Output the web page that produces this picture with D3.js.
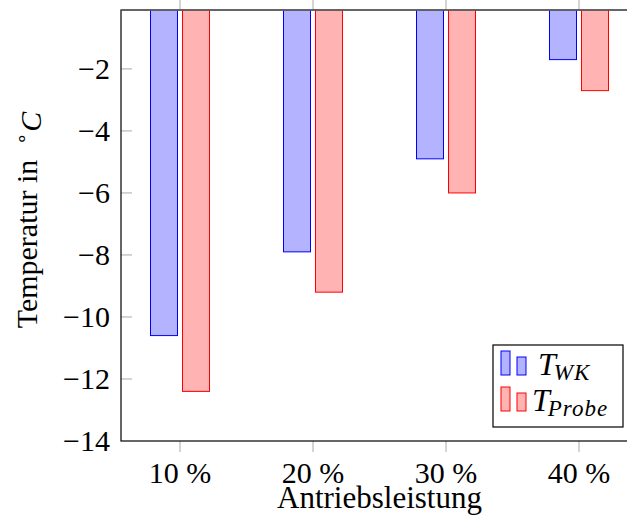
<!DOCTYPE html>
<html>
<head>
<meta charset="utf-8">
<script src="https://cdn.jsdelivr.net/npm/d3@7"></script>
<style>
  body { margin: 0; background: #fff; }
  text { font-family: "Liberation Serif", serif; fill: #000; }
</style>
</head>
<body>
<div id="graph1"></div>
<script>
// data
var categories = ["10 %", "20 %", "30 %", "40 %"];
var tWK = [-10.6, -7.9, -4.9, -1.7];
var tProbe = [-12.4, -9.2, -6.0, -2.7];
var yTicks = [-14, -12, -10, -8, -6, -4, -2];

var w = 627;
var h = 517;
var margin = { top: 10, bottom: 76, left: 121, right: -11 };
var width = w - margin.left - margin.right;   // 517
var height = h - margin.top - margin.bottom;  // 431

var svg = d3.select("#graph1").append("svg")
    .attr("width", w)
    .attr("height", h);

var chart = svg.append("g")
    .attr("transform", "translate(" + margin.left + "," + margin.top + ")");

var x = d3.scalePoint()
    .domain(categories)
    .range([59, width - 59]);

var y = d3.scaleLinear()
    .domain([-14, -0.1])
    .range([height, 0]);

svg.append("defs").append("clipPath")
    .attr("id", "clip")
    .append("rect")
    .attr("width", width)
    .attr("height", height);

var series = [
    { name: "WK", values: tWK, fill: "#b3b3ff", stroke: "#0000ff", offset: -16 },
    { name: "Probe", values: tProbe, fill: "#ffb3b3", stroke: "#ff0000", offset: 16 }
];
var barW = 27;

// bars
var bars = chart.append("g").attr("clip-path", "url(#clip)");
series.forEach(function(s){
    bars.selectAll(".bar-" + s.name)
    .data(s.values)
    .enter()
    .append("rect")
    .attr("x", function(d, i){ return x(categories[i]) + s.offset - barW / 2; })
    .attr("y", y(0))
    .attr("width", barW)
    .attr("height", function(d){ return y(d) - y(0); })
    .style("fill", s.fill)
    .style("stroke", s.stroke)
    .style("stroke-width", 1);
});

// y ticks (inside)
chart.selectAll(".ytick")
    .data(yTicks.filter(function(d){ return d > -14; }))
    .enter()
    .append("line")
    .attr("x1", 0).attr("x2", 11)
    .attr("y1", function(d){ return y(d); })
    .attr("y2", function(d){ return y(d); })
    .style("stroke", "#aaa")
    .style("stroke-width", 1);

chart.selectAll(".ylabel")
    .data(yTicks)
    .enter()
    .append("text")
    .attr("x", -11)
    .attr("y", function(d){ return y(d); })
    .attr("dy", "0.33em")
    .style("text-anchor", "end")
    .style("font-size", "30px")
    .text(function(d){ return "\u2212" + Math.abs(d); });

// x ticks (outside, top and bottom)
chart.selectAll(".xtick-b")
    .data(categories)
    .enter()
    .append("line")
    .attr("x1", function(d){ return x(d); })
    .attr("x2", function(d){ return x(d); })
    .attr("y1", height).attr("y2", height + 11)
    .style("stroke", "#aaa");
chart.selectAll(".xtick-t")
    .data(categories)
    .enter()
    .append("line")
    .attr("x1", function(d){ return x(d); })
    .attr("x2", function(d){ return x(d); })
    .attr("y1", 0).attr("y2", -11)
    .style("stroke", "#aaa");

chart.selectAll(".xlabel")
    .data(categories)
    .enter()
    .append("text")
    .attr("x", function(d){ return x(d); })
    .attr("y", height + 42)
    .style("text-anchor", "middle")
    .style("font-size", "30px")
    .text(function(d){ return d; });

// axis frame
chart.append("rect")
    .attr("width", width)
    .attr("height", height)
    .style("fill", "none")
    .style("stroke", "#000")
    .style("stroke-width", 1.2);
chart.append("line")
    .attr("x1", 0).attr("x2", width)
    .attr("y1", 0).attr("y2", 0)
    .style("stroke", "#666")
    .style("stroke-width", 1.5);

// axis labels
chart.append("text")
    .attr("x", width / 2)
    .attr("y", height + 67)
    .style("text-anchor", "middle")
    .style("font-size", "31px")
    .text("Antriebsleistung");

var yl = svg.append("text")
    .attr("transform", "translate(37,220) rotate(-90)")
    .style("text-anchor", "middle")
    .style("font-size", "30px");
yl.append("tspan").text("Temperatur in \u00a0");
yl.append("tspan").attr("dy", "-0.4em").style("font-size", "20px").text("\u2218");
yl.append("tspan").attr("dy", "0.4em").style("font-style", "italic").text("C");

// legend
var legend = svg.append("g");
legend.append("rect")
    .attr("x", 493).attr("y", 345)
    .attr("width", 130).attr("height", 82)
    .style("fill", "#fff")
    .style("stroke", "#000")
    .style("stroke-width", 1.2);

series.forEach(function(s, i){
    var top = 351 + i * 36;
    legend.append("rect")
        .attr("x", 501).attr("y", top)
        .attr("width", 9).attr("height", 24)
        .style("fill", s.fill).style("stroke", s.stroke);
    legend.append("rect")
        .attr("x", 517).attr("y", top + 6)
        .attr("width", 9).attr("height", 18)
        .style("fill", s.fill).style("stroke", s.stroke);
    var t = legend.append("text")
        .attr("x", i === 0 ? 538 : 532)
        .attr("y", top + 24)
        .style("font-size", "32px")
        .style("font-style", "italic");
    t.append("tspan").text("T");
    t.append("tspan").attr("dy", "0.22em").attr("dx", "-2")
        .style("font-size", "23px").style("letter-spacing", "1px").text(s.name);
});
</script>
</body>
</html>
